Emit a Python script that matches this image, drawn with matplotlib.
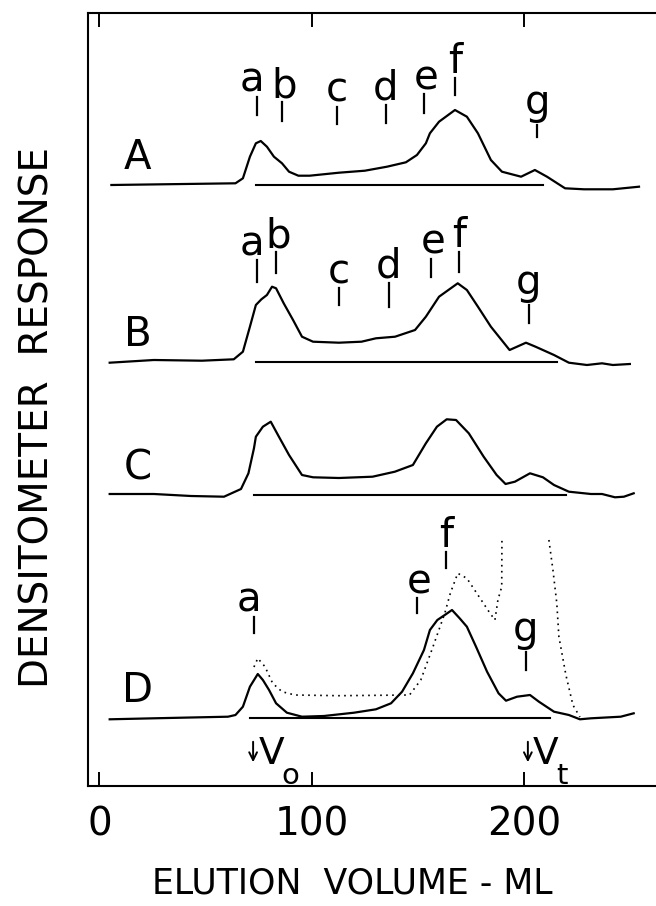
import numpy as np
import matplotlib
matplotlib.use("Agg")
import matplotlib.pyplot as plt

# ── data ────────────────────────────────────────────────────────────────────
# x: elution volume (ml); y: densitometer response above each trace's baseline
A_ml = [5.6, 64.0, 67.5, 70.8, 73.6, 75.9, 78.8, 82.1, 85.9, 89.2, 93.6, 98.9,
        112.7, 124.9, 135.3, 144.2, 149.4, 153.6, 155.5, 159.8, 167.3, 172.9,
        178.1, 184.2, 189.4, 198.4, 204.9, 210.6, 219.1, 228.0, 241.6, 253.9]
A_resp = [0, 1.7, 6.7, 28.3, 41.7, 44, 38.3, 28.3, 21.7, 13.3, 9.3, 9.3,
          12.3, 14.3, 18.3, 22.7, 30, 41.7, 51.7, 63.3, 75, 68.3,
          51.7, 25, 13.3, 8.3, 15, 8.3, -3.3, -4.3, -4.3, -1.7]

B_ml = [4.8, 25.6, 48.2, 63.2, 67.5, 70.8, 73.6, 76.2, 78.8, 81.2, 83.1, 86.7,
        91.1, 95.3, 100.5, 112.7, 123.3, 130.1, 139.1, 148.5, 153.6, 159.8,
        168.6, 172.9, 178.1, 184.2, 193.0, 196.5, 200.7, 205.2, 213.9, 220.9,
        229.4, 236.5, 241.6, 249.6]
B_resp = [-0.7, 2, 1.3, 2.7, 10.3, 35.3, 57, 62.7, 67, 75.3, 73.7, 58.7,
          42, 25.3, 20.3, 19.3, 20.3, 23.7, 25.3, 32, 45.3, 65.3,
          78.7, 72, 55.3, 35.3, 12, 15.3, 19.3, 15.3, 7, -0.7,
          -3, -1.3, -3, -2]

C_ml = [4.8, 25.6, 43.1, 58.6, 66.6, 70.1, 72.7, 73.6, 76.9, 80.6, 84.0, 89.2,
        95.3, 100.5, 112.7, 128.5, 139.0, 147.5, 153.6, 158.8, 163.4, 167.8,
        173.8, 180.8, 186.9, 191.1, 195.5, 202.6, 208.7, 213.9, 220.9, 231.3,
        236.5, 242.6, 246.8, 251.4]
C_resp = [1, 1, -1, -1.7, 6, 21.7, 46.7, 58.3, 68.3, 73.3, 60, 40,
          20, 17.7, 17, 18.3, 23.3, 30, 51.7, 68.3, 75.7, 75,
          61.7, 38.3, 20, 11, 13.3, 21.7, 17.7, 10, 3.3, 1,
          1, -2.3, -1.7, 1.7]

D_ml = [4.8, 25.6, 60.5, 64.0, 67.5, 70.8, 74.5, 76.9, 79.8, 83.1, 88.2, 95.3,
        105.6, 119.8, 130.1, 137.2, 142.4, 147.5, 152.7, 155.5, 159.0, 162.5,
        165.9, 169.5, 172.9, 177.2, 182.4, 187.8, 191.3, 196.5, 202.6, 206.8,
        213.9, 220.9, 226.1, 231.3, 245.3, 251.4]
D_resp = [-1.3, -0.3, 1.3, 3, 11.3, 31.3, 44, 38, 28, 14.7, 5.3, 1.3,
          2, 5.3, 8.7, 14.7, 26.3, 44.7, 68, 88, 98, 103,
          108, 99.7, 91.3, 71.3, 46.3, 24.7, 17.3, 21.3, 23, 16.3,
          6.3, 3, -1.3, -0.3, 1.3, 4.7]

# dotted overlay on D (runs off scale twice)
D2_ml = [72.7, 74.5, 77.9, 81.5, 85.9, 91.9, 112.7, 145.9, 151.2, 156.4, 162.5,
         165.1, 168.6, 172.9, 178.1, 183.3, 186.1, 187.5, 189.3, 189.4]
D2_resp = [51, 59.7, 51.3, 34.7, 26.3, 23, 22.3, 23, 38, 68, 104.7,
           124.7, 144.7, 139.7, 123, 106.3, 98, 118, 131.3, 178]
D3_ml = [211.5, 213.4, 215.2, 216.2, 219.5, 222.8, 226.1]
D3_resp = [178, 148, 115, 81.3, 43, 13, 1]

# baseline segments (start, end ml)
BASE_A = (73.6, 208.7)
BASE_B = (73.6, 215.3)
BASE_C = (72.7, 219.5)
BASE_D = (70.9, 212.0)

# peak markers: letter, volume (ml), tick bottom / top (response units)
A_marks = ["a", "b", "c", "d", "e", "f", "g"]
A_mark_ml = [74.1, 85.9, 111.8, 134.8, 152.7, 167.3, 205.9]
A_mark_lo = [70, 64, 61, 62, 72, 90, 48]
A_mark_hi = [88, 83, 78, 80, 91, 107, 60]

B_marks = ["a", "b", "c", "d", "e", "f", "g"]
B_mark_ml = [74.1, 83.1, 112.7, 136.2, 156.0, 169.2, 202.1]
B_mark_lo = [80, 89, 57, 55, 85, 90, 39]
B_mark_hi = [102, 110, 74, 79, 103, 110, 57]

D_marks = ["a", "e", "f", "g"]
D_mark_ml = [72.7, 149.4, 163.1, 200.7]
D_mark_lo = [85, 105, 150, 48]
D_mark_hi = [101, 120, 166, 66]

V0_ML = 72.3   # void volume
VT_ML = 201.6  # total volume

X_TICKS = [0, 100, 200]

# ── layout ─────────────────────────────────────────────────────────────────
W, H = 656, 906
OFF = {"A": 601, "B": 424, "C": 291, "D": 68}
FONT = ["Liberation Sans Narrow", "DejaVu Sans"]
LW = 1.6
LABEL_SHIFT = {"a": -2.5, "b": 0.8, "e": 1.0}   # nudge crowded letters (ml)

plt.rcParams["font.family"] = FONT

fig = plt.figure(figsize=(W / 100, H / 100), dpi=100)
ax = fig.add_axes([88 / W, 1 - 786 / H, 1 - 88 / W, (786 - 13) / H])
ax.set_xlim(-5.4, 261.9)
ax.set_ylim(0, 773)

for s in ["left", "top", "bottom"]:
    ax.spines[s].set_linewidth(1.5)
ax.spines["right"].set_visible(False)

ax.set_xticks(X_TICKS)
ax.set_xticklabels([str(t) for t in X_TICKS], fontsize=28)
ax.tick_params(axis="x", direction="in", length=10, width=1.4,
               top=True, bottom=True, pad=14)
ax.set_yticks([])

traces = [("A", A_ml, A_resp, BASE_A), ("B", B_ml, B_resp, BASE_B),
          ("C", C_ml, C_resp, BASE_C), ("D", D_ml, D_resp, BASE_D)]
for name, xs, ys, base in traces:
    off = OFF[name]
    ax.plot(xs, np.array(ys) + off, color="black", lw=LW, solid_joinstyle="round")
    ax.plot(base, [off, off], color="black", lw=1.5)
    ax.text(18, off + 27, name, fontsize=29, ha="center", va="center")

ax.plot(D2_ml, np.array(D2_resp) + OFF["D"], color="black", lw=1.2,
        linestyle=(0, (1, 2.6)))
ax.plot(D3_ml, np.array(D3_resp) + OFF["D"], color="black", lw=1.2,
        linestyle=(0, (1, 2.6)))

marks = [("A", A_marks, A_mark_ml, A_mark_lo, A_mark_hi),
         ("B", B_marks, B_mark_ml, B_mark_lo, B_mark_hi),
         ("D", D_marks, D_mark_ml, D_mark_lo, D_mark_hi)]
for name, letters, xs, los, his in marks:
    off = OFF[name]
    for letter, x, lo, hi in zip(letters, xs, los, his):
        ax.plot([x, x], [lo + off, hi + off], color="black", lw=1.6)
        gap = 11 if letter == "g" else 5
        ax.text(x + LABEL_SHIFT.get(letter, 0), hi + off + gap, letter,
                fontsize=29, ha="center", va="baseline")

# void / total volume markers
for x, sub in [(V0_ML, "o"), (VT_ML, "t")]:
    ax.annotate("", xy=(x, 21), xytext=(x, 47),
                arrowprops=dict(arrowstyle="->", lw=1.4, color="black",
                                mutation_scale=14))
    ax.text(x + 2.5, 22, "V", fontsize=27, ha="left", va="baseline")
    ax.text(x + 13.5, 2, sub, fontsize=21, ha="left", va="baseline")

fig.text(352 / W, 1 - 884 / H, "ELUTION  VOLUME - ML", fontsize=25,
         ha="center", va="center")
fig.text(38 / W, 1 - 418 / H, "DENSITOMETER  RESPONSE", fontsize=28,
         ha="center", va="center", rotation=90)

fig.savefig("out.png", dpi=100)
